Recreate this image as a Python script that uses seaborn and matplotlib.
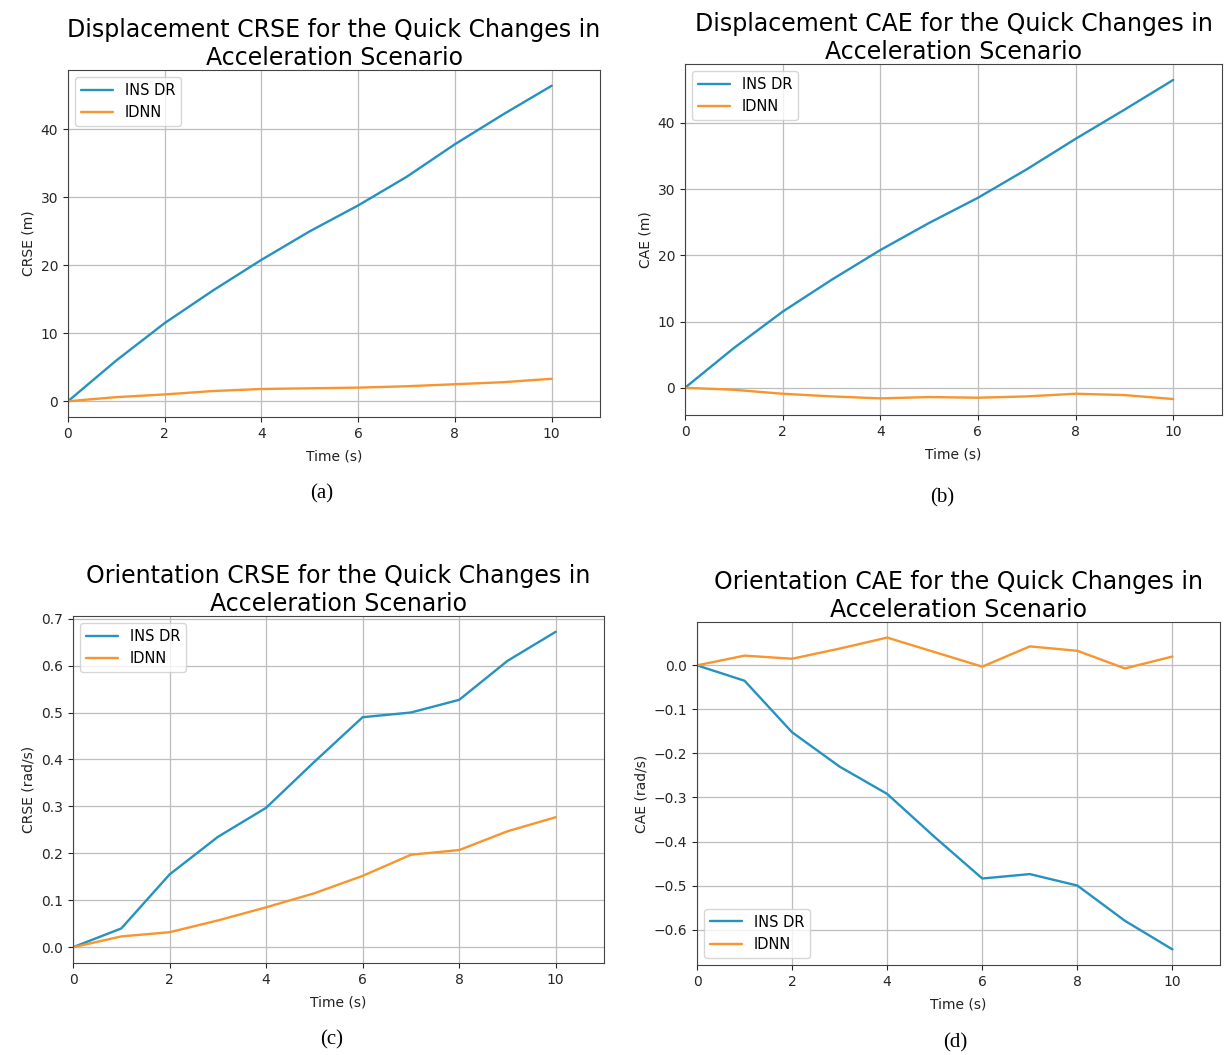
import numpy as np
import pandas as pd
import matplotlib.pyplot as plt
import seaborn as sns

sns.set_style("ticks")
plt.rcParams['font.family'] = ['DejaVu Sans']
plt.rcParams['text.color'] = 'black'
plt.rcParams['axes.labelcolor'] = '#222222'

time_s = [0, 1, 2, 3, 4, 5, 6, 7, 8, 9, 10]
methods = ["INS DR", "IDNN"]

# displacement CRSE (m)
disp_crse_ins = [0, 6.0, 11.5, 16.3, 20.8, 25.0, 28.8, 33.0, 37.8, 42.2, 46.4]
disp_crse_idnn = [0, 0.6, 1.0, 1.5, 1.8, 1.9, 2.0, 2.2, 2.5, 2.8, 3.3]
# displacement CAE (m)
disp_cae_ins = [0, 6.0, 11.5, 16.3, 20.8, 24.9, 28.7, 33.0, 37.6, 42.0, 46.5]
disp_cae_idnn = [0, -0.3, -0.9, -1.3, -1.6, -1.4, -1.5, -1.3, -0.9, -1.1, -1.7]
# orientation CRSE (rad/s)
ori_crse_ins = [0, 0.04, 0.155, 0.235, 0.297, 0.395, 0.49, 0.50, 0.527, 0.61, 0.672]
ori_crse_idnn = [0, 0.023, 0.032, 0.057, 0.085, 0.115, 0.152, 0.197, 0.207, 0.247, 0.277]
# orientation CAE (rad/s)
ori_cae_ins = [0, -0.035, -0.152, -0.23, -0.292, -0.39, -0.484, -0.474, -0.50, -0.58, -0.645]
ori_cae_idnn = [0, 0.022, 0.015, 0.038, 0.063, 0.03, -0.003, 0.043, 0.033, -0.007, 0.02]

panels = [
    ("Displacement CRSE for the Quick Changes in\nAcceleration Scenario", "CRSE (m)",
     disp_crse_ins, disp_crse_idnn, "(a)", "upper left"),
    ("Displacement CAE for the Quick Changes in\nAcceleration Scenario", "CAE (m)",
     disp_cae_ins, disp_cae_idnn, "(b)", "upper left"),
    ("Orientation CRSE for the Quick Changes in\nAcceleration Scenario", "CRSE (rad/s)",
     ori_crse_ins, ori_crse_idnn, "(c)", "upper left"),
    ("Orientation CAE for the Quick Changes in\nAcceleration Scenario", "CAE (rad/s)",
     ori_cae_ins, ori_cae_idnn, "(d)", "lower left"),
]

# axes boxes in pixels: left, top, right, bottom ; caption position
W, H = 1225, 1055
boxes = [(68, 70, 600, 417), (685, 64, 1222, 415), (73, 616, 604, 963), (697, 622, 1220, 965)]
captions = [(322, 494), (942, 498), (332, 1040), (955, 1043)]

palette = {"INS DR": "#2592c0", "IDNN": "#f7952e"}

fig = plt.figure(figsize=(W / 100, H / 100), dpi=100)

for (title, ylab, ins, idnn, cap, loc), (l, t, r, b), (cx, cy) in zip(panels, boxes, captions):
    ax = fig.add_axes([l / W, 1 - b / H, (r - l) / W, (b - t) / H])
    df = pd.DataFrame({
        "time": time_s * 2,
        "value": ins + idnn,
        "method": [methods[0]] * len(time_s) + [methods[1]] * len(time_s),
    })
    sns.lineplot(data=df, x="time", y="value", hue="method", palette=palette,
                 linewidth=1.7, ax=ax)
    ax.set_xlim(0, 11)
    ax.set_xticks([0, 2, 4, 6, 8, 10])
    ax.grid(True, color="#bdbdbd", linewidth=0.9)
    ax.set_title(title, fontsize=17, pad=3, color="black")
    ax.set_xlabel("Time (s)", fontsize=10, labelpad=6)
    ax.set_ylabel(ylab, fontsize=10)
    ax.tick_params(labelsize=10, length=3.5)
    for sp in ax.spines.values():
        sp.set_color("#444444")
    ax.legend(title=None, loc=loc, fontsize=10.5, handlelength=2.2, frameon=True)
    fig.text(cx / W, 1 - cy / H, cap, ha="center", va="center",
             fontsize=15, family="Liberation Serif")

fig.savefig("out.png", dpi=100)
